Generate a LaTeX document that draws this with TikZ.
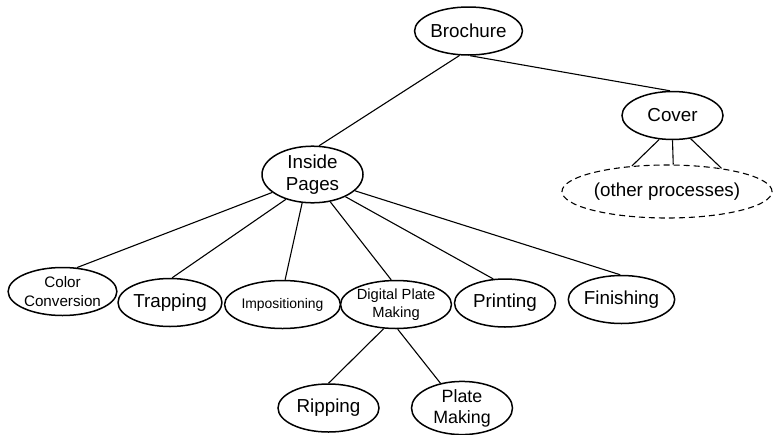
\documentclass[tikz,border=0pt]{standalone}
\usepackage{fontspec}
\setmainfont{Liberation Sans}
\usetikzlibrary{shapes.geometric}
\tikzset{
  proc/.style={ellipse, draw=black, line width=1.5pt, minimum width=101pt, minimum height=48pt,
    inner sep=0pt, align=center, text=black, font=\fontsize{18.8}{22.5}\selectfont},
  other/.style={proc, dash pattern=on 6pt off 4pt, line width=1.1pt, minimum width=210pt, minimum height=53pt},
  link/.style={draw=black, line width=1.1pt}
}
\begin{document}
\begin{tikzpicture}[x=1pt,y=-1pt]
\useasboundingbox (0,0) rectangle (773,434);
\node[proc] (bro) at (468.5,31) {Brochure};
\node[proc] (cov) at (672.5,115.5) {Cover};
\node[other] (oth) at (667,191.5) {(other processes)};
\node[proc] (ip) at (312.5,174.5) {Inside\\Pages};
\node[proc, font=\fontsize{15.2}{19.5}\selectfont] (cc) at (62.5,291.5) {Color\\Conversion};
\node[proc, font=\fontsize{13.9}{17}\selectfont] (imp) at (282.5,304.5) {Impositioning};
\node[proc] (trap) at (170,302.5) {Trapping};
\node[proc, font=\fontsize{14.7}{17.5}\selectfont] (dpm) at (396,304.5) {Digital Plate\\Making};
\node[proc] (prn) at (505,303) {Printing};
\node[proc] (fin) at (621.5,299.5) {Finishing};
\node[proc] (rip) at (328.5,408) {Ripping};
\node[proc, font=\fontsize{17.8}{21}\selectfont] (pm) at (462,408) {Plate\\Making};

\draw[link] (bro.250.5) -- (ip.77);
\draw[link] (bro.274) -- (cov.96);
\draw[link] (cov.241) -- (oth.144);
\draw[link] (cov.270) -- (oth.77);
\draw[link] (cov.308.5) -- (oth.23.5);
\draw[link] (ip.204) -- (cc.59);
\draw[link] (ip.223) -- (trap.85);
\draw[link] (ip.250) -- (imp.84);
\draw[link] (ip.303) -- (dpm.101);
\draw[link] (ip.326) -- (prn.116);
\draw[link] (ip.339.5) -- (fin.93.5);
\draw[link] (dpm.243) -- (rip.90);
\draw[link] (dpm.274.5) -- (pm.131);
\end{tikzpicture}
\end{document}
